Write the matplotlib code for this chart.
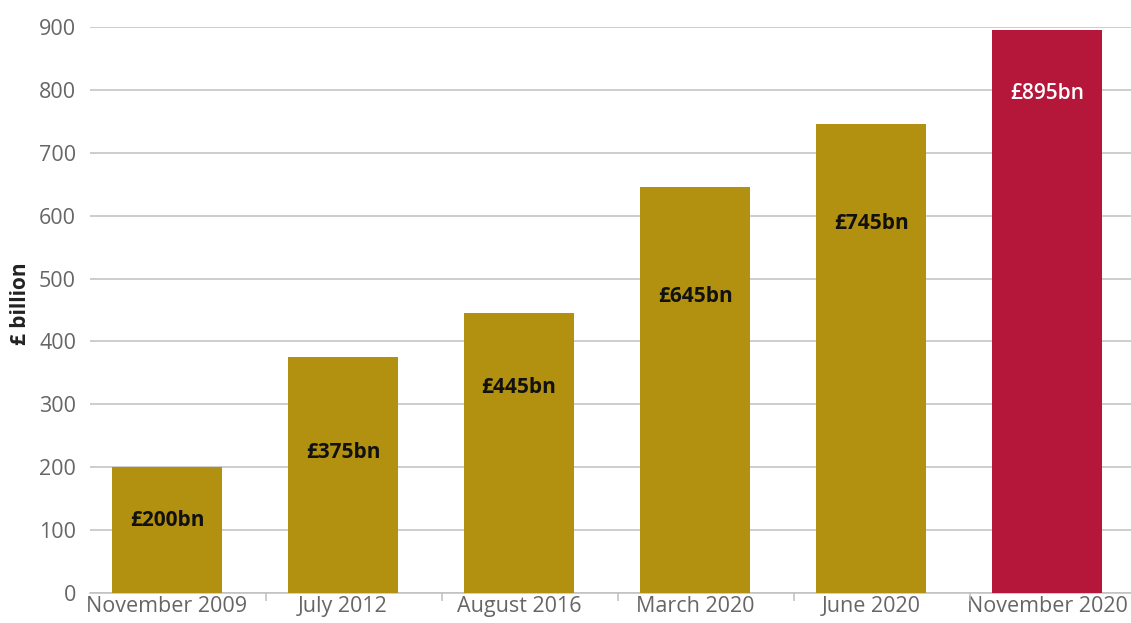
import matplotlib
matplotlib.use("Agg")
import matplotlib.pyplot as plt
from matplotlib.ticker import FixedLocator

categories = ["November 2009", "July 2012", "August 2016", "March 2020", "June 2020", "November 2020"]
values = [200, 375, 445, 645, 745, 895]
bar_labels = ["£200bn", "£375bn", "£445bn", "£645bn", "£745bn", "£895bn"]
label_heights = [116, 224, 326, 472, 588, 794]
y_ticks = [0, 100, 200, 300, 400, 500, 600, 700, 800, 900]

plt.rcParams['font.family'] = ['Open Sans', 'DejaVu Sans']

fig = plt.figure(figsize=(11.31, 6.23), dpi=100)
ax = fig.add_axes([90/1131, 1-593/623, 1-90/1131, (593-27)/623])

gold = "#B39110"
red = "#B5173A"
colors = [gold]*5 + [red]
x = list(range(len(categories)))
ax.bar(x, values, width=0.625, color=colors, zorder=3)

for xi, lab, ly, c in zip(x, bar_labels, label_heights, colors):
    ax.text(xi, ly, lab, ha='center', va='center', fontsize=15,
            fontweight='bold' if c == gold else 'semibold',
            color='#111111' if c == gold else 'white', zorder=4)

ax.set_xlim(-0.4375, 5.477)
ax.set_ylim(0, 900)
ax.set_yticks(y_ticks)
ax.yaxis.grid(True, color='#c0c0c0', linewidth=1.1, zorder=0)
ax.tick_params(axis='y', length=0, pad=10, labelsize=15.5, labelcolor='#666666')
ax.set_xticks(x)
ax.set_xticklabels(categories)
ax.tick_params(axis='x', which='major', length=0, pad=2, labelsize=15.5, labelcolor='#666666')
ax.xaxis.set_minor_locator(FixedLocator([i - 0.44 for i in range(7)]))
ax.tick_params(axis='x', which='minor', length=6, color='#c0c0c0', width=1.1)

for s in ['top', 'right', 'left']:
    ax.spines[s].set_visible(False)
ax.spines['bottom'].set_color('#c0c0c0')
ax.spines['bottom'].set_linewidth(1.1)

fig.text(20/1131, 1-304/623, "£ billion", rotation=90, ha='center', va='center',
         fontsize=15, fontweight='bold', color='#222222')

fig.savefig("out.png", dpi=100)
